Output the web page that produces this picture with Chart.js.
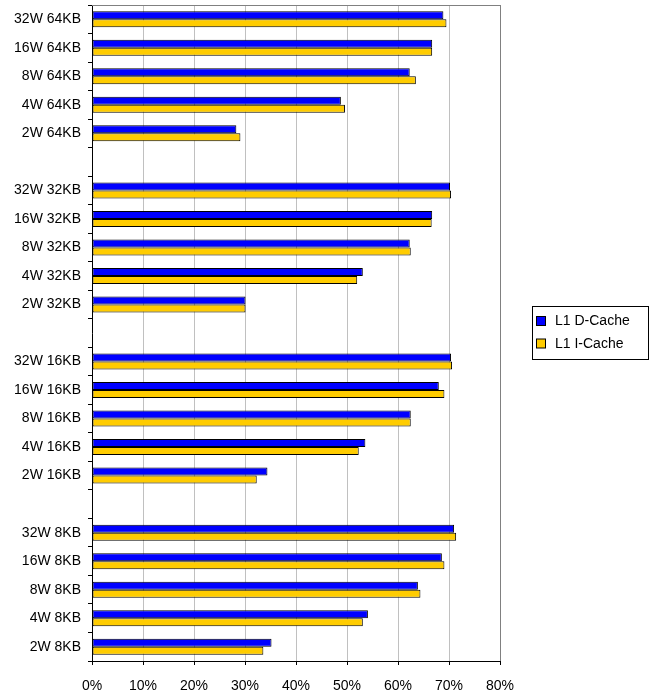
<!DOCTYPE html>
<html>
<head>
<meta charset="utf-8">
<script src="https://cdn.jsdelivr.net/npm/chart.js@4"></script>
<style>
  body { margin: 0; background: #fff; }
</style>
</head>
<body>
<canvas id="grafico" width="657" height="694"></canvas>
<script>
const categorias = [
  "32W 64KB", "16W 64KB", "8W 64KB", "4W 64KB", "2W 64KB", "",
  "32W 32KB", "16W 32KB", "8W 32KB", "4W 32KB", "2W 32KB", "",
  "32W 16KB", "16W 16KB", "8W 16KB", "4W 16KB", "2W 16KB", "",
  "32W 8KB", "16W 8KB", "8W 8KB", "4W 8KB", "2W 8KB"
];

const dCache = [
  68.9, 66.7, 62.3, 48.8, 28.3, null,
  70.2, 66.7, 62.3, 53.1, 30.1, null,
  70.4, 68.0, 62.5, 53.6, 34.4, null,
  71.0, 68.6, 63.9, 54.1, 35.2
];

const iCache = [
  69.5, 66.7, 63.5, 49.6, 29.1, null,
  70.4, 66.6, 62.5, 52.0, 30.1, null,
  70.6, 69.1, 62.5, 52.3, 32.3, null,
  71.4, 69.1, 64.4, 53.1, 33.6
];

const nomesSeries = ["L1 D-Cache", "L1 I-Cache"];
const eixoMin = 0;
const eixoMax = 80;
const passo = 10;

const fonte = "'Liberation Sans', Arial, sans-serif";

// moldura (topo) e legenda com caixa, estilo Excel
const molduraLegenda = {
  id: "molduraLegenda",
  beforeDatasetsDraw(chart) {
    const { ctx, chartArea } = chart;
    ctx.save();
    ctx.strokeStyle = "#808080";
    ctx.lineWidth = 1;
    ctx.beginPath();
    ctx.moveTo(chartArea.left, chartArea.top + 0.5);
    ctx.lineTo(chartArea.right + 0.5, chartArea.top + 0.5);
    ctx.stroke();
    ctx.restore();
  },
  afterDraw(chart) {
    const ctx = chart.ctx;
    ctx.save();
    ctx.strokeStyle = "#000";
    ctx.lineWidth = 1;
    ctx.strokeRect(532.5, 306.5, 116, 53);
    ctx.font = "14px " + fonte;
    ctx.textBaseline = "middle";
    chart.data.datasets.forEach((ds, i) => {
      const y = 321 + i * 22.5;
      ctx.fillStyle = ds.backgroundColor;
      ctx.fillRect(536.5, y - 4.5, 9, 9);
      ctx.strokeRect(536.5, y - 4.5, 9, 9);
      ctx.fillStyle = "#000";
      ctx.fillText(ds.label, 555, y + 0.5);
    });
    ctx.restore();
  },
};

new Chart(document.getElementById("grafico"), {
  type: "bar",
  data: {
    labels: categorias,
    datasets: [
      {
        label: nomesSeries[0],
        data: dCache,
        backgroundColor: "#0000FF",
        borderColor: "#000",
        borderWidth: 1,
        borderSkipped: false,
      },
      {
        label: nomesSeries[1],
        data: iCache,
        backgroundColor: "#FFCC00",
        borderColor: "#000",
        borderWidth: 1,
        borderSkipped: false,
      },
    ],
  },
  options: {
    indexAxis: "y",
    responsive: false,
    animation: false,
    categoryPercentage: 0.56,
    barPercentage: 1.0,
    layout: { padding: { top: 5, right: 157, left: 0, bottom: 0 } },
    plugins: {
      legend: { display: false },
      tooltip: { enabled: false },
    },
    scales: {
      x: {
        min: eixoMin,
        max: eixoMax,
        afterFit: (s) => { s.height = 33; },
        ticks: {
          stepSize: passo,
          callback: (v) => v + "%",
          color: "#000",
          font: { family: fonte, size: 14 },
          padding: 13,
          maxRotation: 0,
        },
        grid: {
          color: (c) => (c.tick && c.tick.value === eixoMax ? "#808080" : "#c0c0c0"),
          tickColor: "#000",
          tickLength: 4,
        },
        border: { color: "#000" },
      },
      y: {
        afterFit: (s) => {
          s.width = 92;
          s.paddingTop = 0;
          s.paddingBottom = 0;
        },
        ticks: {
          color: "#000",
          font: { family: fonte, size: 14 },
          padding: 7,
          autoSkip: false,
        },
        grid: {
          offset: true,
          drawOnChartArea: false,
          tickColor: "#000",
          tickLength: 4,
        },
        border: { color: "#000" },
      },
    },
  },
  plugins: [molduraLegenda],
});
</script>
</body>
</html>
